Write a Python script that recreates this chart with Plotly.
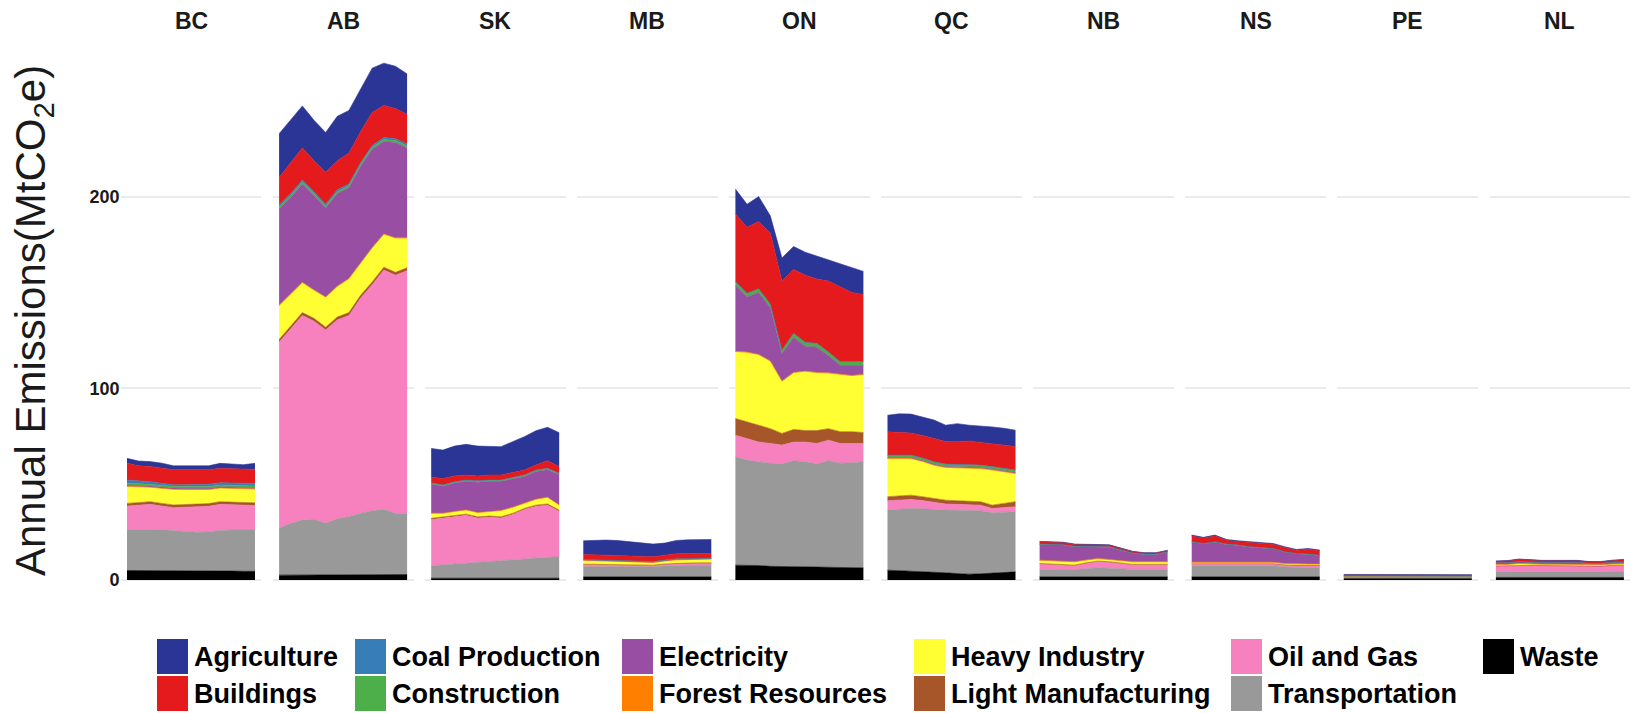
import plotly.graph_objects as go

# ---- data: annual emissions by sector (MtCO2e), 2005-2016 ----
years = list(range(2005, 2017))

provinces = ["BC", "AB", "SK", "MB", "ON", "QC", "NB", "NS", "PE", "NL"]

sectors = ["Agriculture", "Buildings", "Coal Production", "Construction",
           "Electricity", "Forest Resources", "Heavy Industry",
           "Light Manufacturing", "Oil and Gas", "Transportation", "Waste"]

sector_colors = ["#2B3595", "#E41A1C", "#377EB8", "#4DAF4A", "#984EA3",
                 "#FF7F00", "#FFFF33", "#A65628", "#F781BF", "#999999",
                 "#000000"]

bc = {
    "Waste": [5.0, 5.0, 4.9, 4.9, 4.8, 4.8, 4.8, 4.7, 4.7, 4.7, 4.6, 4.6],
    "Transportation": [21.4, 21.5, 21.5, 21.3, 21.0, 20.6, 20.2, 20.4, 21.2, 21.4, 21.4, 21.5],
    "Oil and Gas": [12.2, 12.7, 13.1, 12.4, 12.0, 12.6, 13.3, 13.4, 13.6, 13.1, 13.0, 12.8],
    "Light Manufacturing": [1.4] * 12,
    "Heavy Industry": [8.7, 7.9, 7.3, 7.6, 7.9, 7.6, 7.3, 7.1, 6.9, 7.0, 7.1, 7.0],
    "Forest Resources": [0.3] * 12,
    "Electricity": [0.6] * 12,
    "Construction": [0.9] * 12,
    "Coal Production": [1.7, 1.5, 1.3, 1.1, 0.8, 0.9, 1.1, 1.2, 1.2, 1.3, 1.3, 1.3],
    "Buildings": [8.7, 7.8, 8.0, 8.0, 7.8, 8.0, 7.8, 7.6, 7.5, 7.4, 7.3, 7.3],
    "Agriculture": [2.6, 2.5, 2.5, 2.5, 2.1, 2.0, 1.8, 2.0, 2.6, 2.5, 2.3, 3.2],
}

ab = {
    "Waste": [2.6, 2.6, 2.7, 2.7, 2.7, 2.7, 2.8, 2.8, 2.8, 2.9, 2.9, 2.9],
    "Transportation": [24.4, 27.0, 28.6, 29.0, 26.9, 29.3, 30.2, 32.0, 33.4, 34.0, 31.9, 31.9],
    "Oil and Gas": [97.0, 101.4, 106.7, 103.3, 100.8, 103.7, 105.0, 112.2, 117.8, 124.8, 124.2, 126.6],
    "Light Manufacturing": [1.5] * 12,
    "Heavy Industry": [17.5, 16.5, 15.5, 14.5, 15.5, 15.8, 17.5, 16.6, 17.6, 17.0, 17.7, 15.3],
    "Forest Resources": [0.3] * 12,
    "Electricity": [50.3, 50.3, 51.3, 49.3, 46.3, 48.3, 47.3, 50.3, 51.3, 48.3, 49.7, 46.9],
    "Construction": [1.0] * 12,
    "Coal Production": [1.0] * 12,
    "Buildings": [14.4, 16.1, 16.8, 16.1, 16.7, 15.1, 16.1, 16.1, 17.2, 16.7, 15.7, 15.5],
    "Agriculture": [22.8, 22.1, 21.9, 21.1, 20.7, 23.2, 22.2, 22.2, 23.1, 22.1, 22.1, 21.1],
}

sk = {
    "Waste": [1.0] * 12,
    "Transportation": [6.5, 6.9, 7.3, 7.8, 8.2, 8.6, 9.0, 9.5, 10.0, 10.5, 11.0, 11.2],
    "Oil and Gas": [24.1, 24.5, 25.0, 25.0, 23.2, 23.2, 22.4, 23.7, 25.8, 27.0, 27.1, 23.7],
    "Light Manufacturing": [0.6] * 12,
    "Heavy Industry": [2.6, 1.8, 1.8, 2.1, 2.1, 2.3, 3.2, 3.1, 2.6, 3.0, 3.4, 2.6],
    "Forest Resources": [0.1] * 12,
    "Electricity": [15.2, 14.0, 14.8, 14.9, 15.9, 15.7, 15.2, 14.9, 14.0, 14.5, 14.4, 15.8],
    "Construction": [0.5] * 12,
    "Coal Production": [0.2] * 12,
    "Buildings": [2.8, 3.4, 3.0, 2.6, 2.5, 2.6, 2.6, 2.4, 2.6, 2.6, 4.0, 3.4],
    "Agriculture": [15.1, 14.8, 15.6, 16.0, 15.6, 15.1, 14.8, 16.2, 17.4, 17.9, 17.4, 17.8],
}

mb = {
    "Waste": [1.7] * 12,
    "Transportation": [5.3, 5.3, 5.3, 5.2, 5.2, 5.2, 5.3, 5.6, 5.9, 6.0, 6.1, 6.1],
    "Oil and Gas": [1.0, 0.9, 0.8, 0.8, 0.7, 0.6, 0.5, 0.8, 0.9, 0.9, 0.9, 0.9],
    "Light Manufacturing": [0.3] * 12,
    "Heavy Industry": [1.8, 1.7, 1.6, 1.5, 1.4, 1.3, 1.2, 1.4, 1.6, 1.6, 1.7, 1.8],
    "Forest Resources": [0.2] * 12,
    "Electricity": [0.3] * 12,
    "Construction": [0.2] * 12,
    "Coal Production": [0.0] * 12,
    "Buildings": [2.6, 2.6, 2.6, 2.6, 2.6, 2.6, 2.5, 2.5, 2.7, 2.7, 2.5, 2.4],
    "Agriculture": [7.1, 7.5, 7.9, 7.8, 7.4, 6.9, 6.6, 6.3, 6.9, 7.1, 7.2, 7.3],
}

on = {
    "Waste": [7.8, 7.8, 7.6, 7.2, 7.0, 7.0, 6.9, 6.8, 6.8, 6.6, 6.5, 6.4],
    "Transportation": [56.5, 54.8, 54.1, 53.7, 53.5, 55.3, 54.8, 53.7, 55.5, 54.4, 54.7, 55.3],
    "Oil and Gas": [11.3, 11.4, 10.3, 10.4, 9.9, 9.7, 10.3, 10.8, 10.7, 10.3, 10.1, 9.6],
    "Light Manufacturing": [8.7, 8.6, 9.0, 7.7, 6.1, 6.6, 6.0, 6.7, 6.0, 6.1, 6.1, 5.7],
    "Heavy Industry": [34.7, 36.0, 36.4, 35.0, 27.0, 29.4, 30.7, 30.0, 28.8, 29.6, 29.0, 30.0],
    "Forest Resources": [0.3] * 12,
    "Electricity": [34.4, 28.7, 32.3, 27.7, 14.2, 18.4, 13.0, 13.2, 8.9, 4.7, 5.3, 4.7],
    "Construction": [2.0] * 12,
    "Coal Production": [0.0] * 12,
    "Buildings": [35.3, 34.4, 35.0, 37.0, 36.0, 33.3, 35.0, 33.5, 37.0, 39.0, 36.0, 35.0],
    "Agriculture": [13.0, 12.0, 13.0, 9.0, 12.0, 12.0, 12.0, 12.0, 11.0, 12.0, 13.0, 12.0],
}

qc = {
    "Waste": [5.2, 5.0, 4.8, 4.5, 4.2, 3.8, 3.4, 3.1, 3.3, 3.6, 4.0, 4.3],
    "Transportation": [31.3, 32.0, 32.6, 32.7, 32.6, 32.7, 33.0, 33.2, 32.9, 31.5, 31.4, 31.4],
    "Oil and Gas": [4.9, 4.8, 4.7, 4.3, 3.7, 3.2, 3.1, 3.0, 2.9, 2.3, 2.4, 2.6],
    "Light Manufacturing": [2.1, 2.2, 2.2, 2.0, 2.0, 2.0, 1.9, 1.8, 1.8, 1.7, 2.2, 2.6],
    "Heavy Industry": [19.7, 19.2, 18.9, 18.2, 17.2, 16.8, 16.9, 17.0, 17.1, 18.1, 16.2, 14.5],
    "Forest Resources": [0.3] * 12,
    "Electricity": [0.5] * 12,
    "Construction": [1.2] * 12,
    "Coal Production": [0.0] * 12,
    "Buildings": [12.2, 11.9, 11.5, 11.7, 12.0, 11.8, 11.9, 12.5, 11.8, 12.0, 12.3, 12.3],
    "Agriculture": [8.6, 9.6, 9.9, 9.5, 9.8, 8.5, 9.4, 8.2, 8.7, 8.7, 8.7, 8.5],
}

nb = {
    "Waste": [1.7] * 12,
    "Transportation": [3.9, 3.9, 3.9, 3.8, 4.2, 4.7, 4.5, 4.1, 3.9, 3.9, 3.9, 3.9],
    "Oil and Gas": [2.8, 2.6, 2.3, 2.0, 2.8, 3.2, 3.1, 2.7, 2.3, 2.3, 2.3, 2.3],
    "Light Manufacturing": [0.3] * 12,
    "Heavy Industry": [1.4, 1.4, 1.5, 1.5, 1.2, 1.1, 0.9, 1.1, 1.1, 1.1, 1.1, 1.1],
    "Forest Resources": [0.3] * 12,
    "Electricity": [8.2, 8.3, 8.3, 7.8, 6.8, 5.9, 6.4, 5.3, 4.4, 3.8, 3.8, 5.0],
    "Construction": [0.2] * 12,
    "Coal Production": [0.0] * 12,
    "Buildings": [1.2, 1.2, 1.1, 1.0, 0.9, 1.0, 0.8, 0.8, 0.6, 0.5, 0.5, 0.6],
    "Agriculture": [0.2] * 12,
}

ns = {
    "Waste": [1.7] * 12,
    "Transportation": [5.8, 5.8, 5.7, 5.7, 5.6, 5.6, 5.7, 5.8, 5.2, 4.9, 4.9, 4.9],
    "Oil and Gas": [0.8] * 12,
    "Light Manufacturing": [0.3] * 12,
    "Heavy Industry": [0.4] * 12,
    "Forest Resources": [0.3] * 12,
    "Electricity": [10.5, 9.6, 10.6, 9.4, 9.0, 8.1, 7.6, 7.0, 5.9, 5.3, 5.0, 4.4],
    "Construction": [0.2] * 12,
    "Coal Production": [0.0] * 12,
    "Buildings": [3.1, 2.8, 3.1, 2.0, 1.8, 2.2, 2.1, 2.2, 2.2, 1.7, 2.5, 2.3],
    "Agriculture": [0.4] * 12,
}

pe = {
    "Waste": [0.9] * 12,
    "Transportation": [0.9, 0.9, 0.9, 0.9, 0.9, 0.9, 1.0, 0.9, 0.9, 0.8, 0.8, 0.8],
    "Oil and Gas": [0.1] * 12,
    "Light Manufacturing": [0.05] * 12,
    "Heavy Industry": [0.1] * 12,
    "Forest Resources": [0.05] * 12,
    "Electricity": [0.1] * 12,
    "Construction": [0.05] * 12,
    "Coal Production": [0.0] * 12,
    "Buildings": [0.4] * 12,
    "Agriculture": [0.3, 0.3, 0.3, 0.3, 0.3, 0.35, 0.35, 0.3, 0.3, 0.3, 0.3, 0.3],
}

nl = {
    "Waste": [1.4] * 12,
    "Transportation": [2.9, 2.9, 3.0, 3.0, 3.0, 3.0, 3.0, 3.0, 2.9, 2.9, 3.0, 3.0],
    "Oil and Gas": [2.9, 3.0, 3.3, 3.1, 3.0, 3.0, 3.0, 3.0, 2.8, 2.8, 3.1, 3.2],
    "Light Manufacturing": [0.2] * 12,
    "Heavy Industry": [0.6, 0.6, 0.7, 0.6, 0.6, 0.6, 0.6, 0.6, 0.6, 0.6, 0.6, 0.6],
    "Forest Resources": [0.1] * 12,
    "Electricity": [0.8, 0.8, 0.9, 0.8, 0.8, 0.8, 0.8, 0.8, 0.7, 0.7, 0.8, 0.9],
    "Construction": [0.1] * 12,
    "Coal Production": [0.0] * 12,
    "Buildings": [0.8, 0.9, 1.1, 1.0, 0.9, 0.9, 0.9, 0.9, 0.7, 0.7, 0.9, 1.1],
    "Agriculture": [0.2] * 12,
}

province_data = [bc, ab, sk, mb, on, qc, nb, ns, pe, nl]

y_ticks = [0, 100, 200]

# ---- layout geometry (pixels) ----
W, H = 1638, 713
FONT = "Liberation Sans, Arial, sans-serif"
panel_w = 140.8
panel_step = 152.1
panel_x0 = 120.6
plot_top, plot_bottom = 36.5, 606.0
y_range = [-13.5, 283.5]
x_range = [years[0] - 0.55, years[-1] + 0.55]

color_of = dict(zip(sectors, sector_colors))
stack_order = sectors[::-1]  # Waste at the bottom, Agriculture on top

fig = go.Figure()
layout = dict(
    width=W, height=H,
    margin=dict(l=0, r=0, t=0, b=0),
    paper_bgcolor="white", plot_bgcolor="white",
    showlegend=False,
)
annotations = []
shapes = []

for i, (prov, data) in enumerate(zip(provinces, province_data)):
    n = i + 1
    xa = "x" if n == 1 else f"x{n}"
    ya = "y" if n == 1 else f"y{n}"
    for s in stack_order:
        fig.add_trace(go.Scatter(
            x=years, y=data[s], name=s,
            mode="lines", stackgroup=f"g{n}",
            line=dict(width=0.6, color=color_of[s]),
            fillcolor=color_of[s],
            xaxis=xa, yaxis=ya, showlegend=False,
        ))
    left = panel_x0 + i * panel_step
    layout["xaxis" if n == 1 else f"xaxis{n}"] = dict(
        domain=[left / W, (left + panel_w) / W],
        range=x_range, visible=False, anchor=ya,
    )
    layout["yaxis" if n == 1 else f"yaxis{n}"] = dict(
        domain=[1 - plot_bottom / H, 1 - plot_top / H],
        range=y_range, anchor=xa,
        tickvals=y_ticks, showgrid=True, gridcolor="#EBEBEB", gridwidth=2,
        zeroline=False, showline=False, ticks="",
        showticklabels=(n == 1),
        tickfont=dict(family=FONT, size=18, color="#1a1a1a", weight="bold"),
    )
    annotations.append(dict(
        text=prov, xref="paper", yref="paper",
        x=(left + panel_w / 2) / W, y=1 - 21 / H,
        xanchor="center", yanchor="middle", showarrow=False,
        font=dict(family=FONT, size=23, color="#1a1a1a", weight="bold"),
    ))

# y-axis title
annotations.append(dict(
    text="Annual Emissions(MtCO<sub>2</sub>e)", xref="paper", yref="paper",
    x=33 / W, y=1 - 321 / H, textangle=-90,
    xanchor="center", yanchor="middle", showarrow=False,
    font=dict(family=FONT, size=42, color="#1a1a1a"),
))

# legend: six columns of two keys each
key_x = [157, 355, 622, 914, 1231, 1483]
row_top = [639, 676]
key_w, key_h = 31, 35
for k, s in enumerate(sectors):
    col, row = divmod(k, 2)
    x0 = key_x[col]
    y0 = row_top[row]
    shapes.append(dict(
        type="rect", xref="paper", yref="paper",
        x0=x0 / W, x1=(x0 + key_w) / W,
        y0=1 - (y0 + key_h) / H, y1=1 - y0 / H,
        fillcolor=color_of[s], line=dict(width=0),
    ))
    annotations.append(dict(
        text=s, xref="paper", yref="paper",
        x=(x0 + key_w + 4) / W, y=1 - (y0 + key_h / 2) / H,
        xanchor="left", yanchor="middle", showarrow=False,
        font=dict(family=FONT, size=27, color="#000000", weight="bold"),
    ))

layout["annotations"] = annotations
layout["shapes"] = shapes
fig.update_layout(**layout)

fig.write_html("out.html")
